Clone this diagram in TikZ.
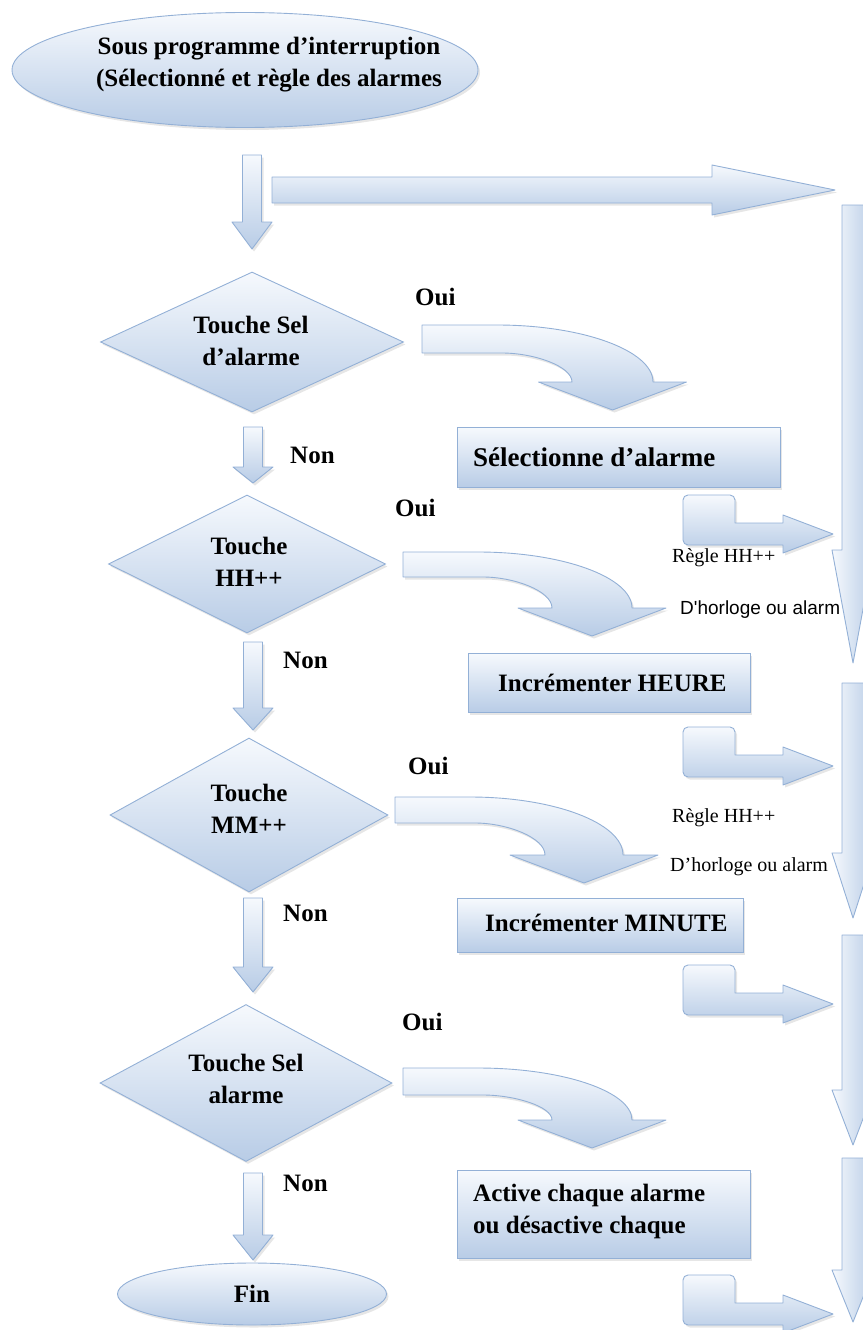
\documentclass[tikz,border=0pt]{standalone}
\usepackage{fontspec}
\setmainfont{Liberation Serif}
\newfontfamily\sansfam{Liberation Sans}
\usetikzlibrary{shapes.geometric,shadows}

\definecolor{shadeTop}{RGB}{246,249,253}
\definecolor{shadeBot}{RGB}{184,204,230}
\definecolor{edgeBlue}{RGB}{147,176,214}

\tikzset{
  blueshade/.style={top color=shadeTop, bottom color=shadeBot, draw=edgeBlue, line width=0.9pt},
  softshadow/.style={drop shadow={opacity=0.2, shadow xshift=2pt, shadow yshift=-2.5pt}},
  decision/.style={diamond, blueshade, softshadow, inner sep=0pt},
  terminal/.style={ellipse, blueshade, softshadow, inner sep=0pt},
  process/.style={rectangle, blueshade, softshadow, inner sep=0pt, anchor=north west},
  maintext/.style={font=\fontsize{25}{32}\selectfont\bfseries, align=center, inner sep=0pt},
  boxtext/.style={maintext, anchor=west, align=left},
  branch/.style={maintext, anchor=west},
  note/.style={font=\fontsize{20}{24}\selectfont, anchor=west, inner sep=0pt},
  blockarrow/.style={blueshade, line join=round, softshadow},
  sidearrow/.style={left color=shadeTop, right color=shadeBot, draw=edgeBlue, line width=0.9pt, line join=round},
}

% straight block arrow pointing down: centre x, top, start of head, tip
\newcommand\downblock[4]{%
  \draw[blockarrow] ({#1-9.5},#2) -- ({#1+9.5},#2) -- ({#1+9.5},#3) -- ({#1+20},#3)
    -- (#1,#4) -- ({#1-20},#3) -- ({#1-9.5},#3) -- cycle;}

% tall arrow on the right border: top, start of head, tip
\newcommand\sideblock[3]{%
  \draw[sidearrow] (842,#1) -- (864,#1) -- (864,#2) -- (874,#2) -- (853,#3)
    -- (832,#2) -- (842,#2) -- cycle;}

% bent arrow going down then right: top edge
\newcommand\elbowblock[1]{%
  \draw[blockarrow] (683,{#1+25}) [rounded corners=5pt] -- (683,#1) -- (735,#1)
    [sharp corners] -- (735,{#1+28}) -- (783,{#1+28}) -- (783,{#1+20}) -- (833,{#1+39})
    -- (783,{#1+58}) -- (783,{#1+50}) [rounded corners=5pt] -- (683,{#1+50}) -- cycle;}

% curved arrow turning from right to down:
% start x, shaft top, shaft bottom, head base y, inner x, outer x
\newcommand\curveblock[6]{%
  \pgfmathsetmacro\cArrowMid{(#5+#6)/2}%
  \draw[blockarrow] (#1,#2) -- ({#1+75},#2)
    .. controls ({#1+75+0.55*(#6-#1-75)},#2) and (#6,{#4-0.55*(#4-#2)}) .. (#6,#4)
    -- ({\cArrowMid+74},#4) -- (\cArrowMid,{#4+28}) -- ({\cArrowMid-74},#4) -- (#5,#4)
    .. controls (#5,{#4-0.55*(#4-#3)}) and ({#5-0.55*(#5-#1-80)},#3) .. ({#1+80},#3)
    -- (#1,#3) -- cycle;}

\begin{document}
\begin{tikzpicture}[x=1pt,y=-1pt]
\useasboundingbox (0,0) rectangle (862,1330);

% start of the interrupt routine
\node[terminal, minimum width=466pt, minimum height=115pt] (start) at (245,70) {};
\node[maintext] (startText) at (269,65) {Sous programme d’interruption\\(Sélectionné et règle des alarmes};

\downblock{252}{155}{222}{249}
\draw[blockarrow] (272,177) -- (712,177) -- (712,165) -- (835,190) -- (712,215)
  -- (712,203) -- (272,203) -- cycle;

% first test: alarm selection key
\node[decision, minimum width=303pt, minimum height=140pt] (d1) at (252,342) {};
\node[maintext] (d1Text) at (251,341) {Touche Sel\\d’alarme};
\node[branch] (oui1) at (415,297) {Oui};
\curveblock{422}{325}{353}{382}{572}{653}
\node[process, minimum width=323pt, minimum height=60pt] (b1) at (457,427) {};
\node[boxtext, font=\fontsize{27}{32}\selectfont\bfseries] (b1Text) at (473,457) {Sélectionne d’alarme};
\elbowblock{495}
\node[note] (rule1) at (672,558) {Règle HH++};
\node[note, font=\sansfam\fontsize{19}{24}\selectfont] (clock1) at (680,610) {D'horloge ou alarm};

\downblock{253}{427}{467}{483}
\node[branch] (non1) at (290,455) {Non};

% second test: hour key
\node[decision, minimum width=277pt, minimum height=138pt] (d2) at (247,564) {};
\node[maintext] (d2Text) at (249,562) {Touche\\HH++};
\node[branch] (oui2) at (395,508) {Oui};
\curveblock{403}{552}{577}{608}{552}{632}
\node[process, minimum width=282pt, minimum height=59pt] (b2) at (468,653) {};
\node[boxtext] (b2Text) at (498,683) {Incrémenter HEURE};
\elbowblock{727}
\node[note] (rule2) at (672,818) {Règle HH++};
\node[note] (clock2) at (670,867) {D’horloge ou alarm};

\downblock{253}{642}{708}{730}
\node[branch] (non2) at (283,660) {Non};

% third test: minute key
\node[decision, minimum width=278pt, minimum height=154pt] (d3) at (249,815) {};
\node[maintext] (d3Text) at (249,809) {Touche\\MM++};
\node[branch] (oui3) at (408,766) {Oui};
\curveblock{395}{797}{823}{855}{545}{623}
\node[process, minimum width=286pt, minimum height=54pt] (b3) at (457,898) {};
\node[boxtext] (b3Text) at (485,923) {Incrémenter MINUTE};
\elbowblock{965}

\downblock{253}{898}{967}{992}
\node[branch] (non3) at (283,913) {Non};

% fourth test: alarm on/off key
\node[decision, minimum width=292pt, minimum height=157pt] (d4) at (246,1083) {};
\node[maintext] (d4Text) at (246,1079) {Touche Sel\\alarme};
\node[branch] (oui4) at (402,1022) {Oui};
\curveblock{403}{1068}{1095}{1120}{552}{632}
\node[process, minimum width=293pt, minimum height=88pt] (b4) at (457,1170) {};
\node[boxtext] (b4Text) at (473,1211) {Active chaque alarme\\ou désactive chaque};
\elbowblock{1275}

\downblock{253}{1173}{1235}{1260}
\node[branch] (non4) at (283,1183) {Non};

% end
\node[terminal, minimum width=269pt, minimum height=62pt] (fin) at (252,1294) {};
\node[maintext] (finText) at (fin) {Fin};

% return arrows along the right border
\sideblock{205}{550}{663}
\sideblock{683}{853}{918}
\sideblock{935}{1090}{1145}
\sideblock{1158}{1270}{1322}
\end{tikzpicture}
\end{document}
